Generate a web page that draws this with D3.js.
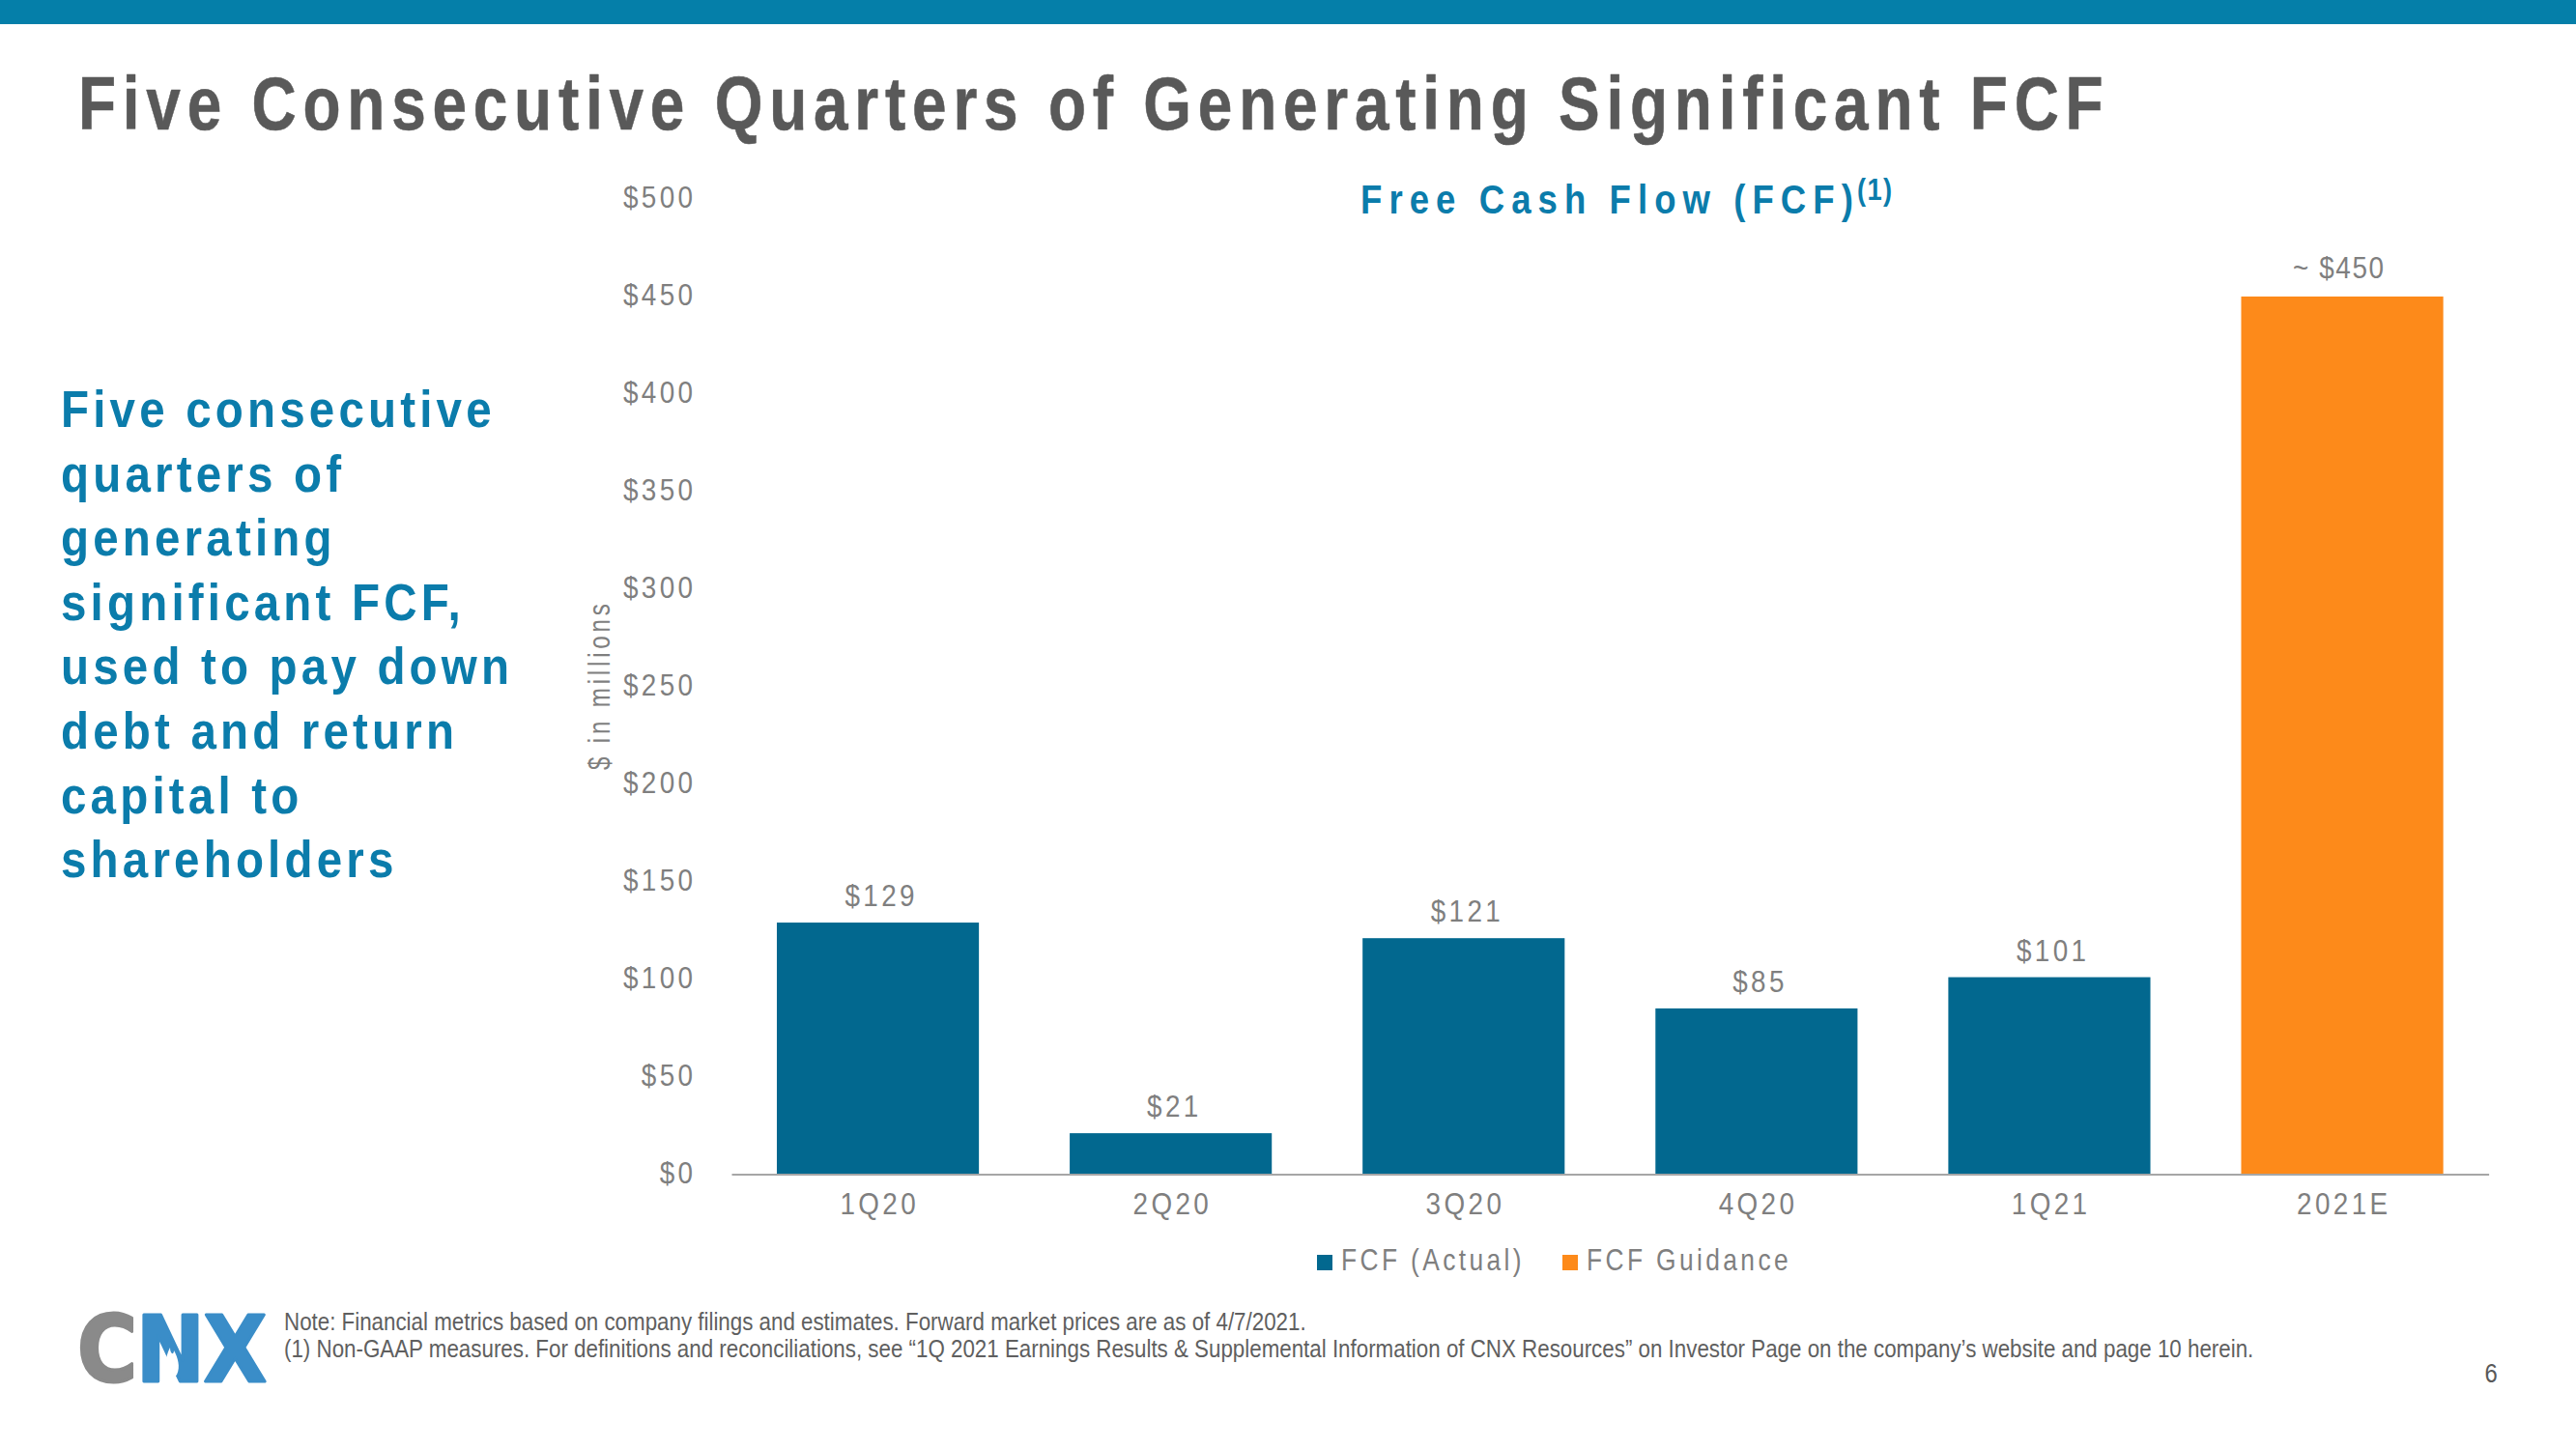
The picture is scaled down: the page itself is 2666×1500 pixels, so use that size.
<!DOCTYPE html>
<html><head><meta charset="utf-8">
<script src="https://cdn.jsdelivr.net/npm/d3@7"></script>
<style>html,body{margin:0;padding:0;background:#fff;} svg{display:block;}</style>
</head><body>
<svg id="chart" width="2666" height="1500"></svg>
<script>
// ---------------- DATA ----------------
const categories = ["1Q20", "2Q20", "3Q20", "4Q20", "1Q21", "2021E"];
const fcfValues = [129, 21, 121, 85, 101, 450];
const seriesKind = ["actual", "actual", "actual", "actual", "actual", "guidance"];
const valueLabels = ["$129", "$21", "$121", "$85", "$101", "~ $450"];
const yTickValues = [0, 50, 100, 150, 200, 250, 300, 350, 400, 450, 500];
const legendLabels = ["FCF (Actual)", "FCF Guidance"];
const sideText = ["Five consecutive", "quarters of", "generating", "significant FCF,", "used to pay down", "debt and return", "capital to", "shareholders"];
const footnotes = [
  "Note: Financial metrics based on company filings and estimates. Forward market prices are as of 4/7/2021.",
  "(1) Non-GAAP measures. For definitions and reconciliations, see \u201C1Q 2021 Earnings Results & Supplemental Information of CNX Resources\u201D on Investor Page on the company\u2019s website and page 10 herein."
];

// ---------------- STYLE ----------------
const FONT = "'Liberation Sans', Arial, Helvetica, sans-serif";
const BLUE_BAR = "#02688f";
const ORANGE = "#fd8a1a";
const BRAND_BLUE = "#0b7cab";
const GREY_TXT = "#7f7f7f";
const colorOf = { actual: BLUE_BAR, guidance: ORANGE };

const svg = d3.select("#chart");

function placeText(parent, str, o) {
  const size = o.size, weight = o.weight || "normal", fill = o.fill;
  let k = o.k || 1, ls = o.ls || 0;
  const anchor = o.anchor || "start";
  const g = parent.append("g");
  const t = g.append("text")
    .attr("font-family", o.family || FONT)
    .attr("font-size", size)
    .attr("font-weight", weight)
    .attr("fill", fill)
    .attr("text-anchor", "start")
    .attr("x", 0).attr("y", 0).attr("dy", 0)
    .style("letter-spacing", "0px")
    .text(str);
  if (o.stroke) t.attr("stroke", fill).attr("stroke-width", o.stroke).attr("stroke-linejoin", "round");
  const w0 = t.node().getComputedTextLength();
  const n = str.length;
  if (o.width != null) {
    if (o.fitK) { k = o.width / w0; ls = 0; }
    else ls = (o.width / k - w0) / Math.max(1, n - 1);
  }
  t.style("letter-spacing", ls + "px");
  const ws = k * (w0 + (n - 1) * ls);
  let x0 = o.x;
  if (anchor === "middle") x0 = o.x - ws / 2;
  else if (anchor === "end") x0 = o.x - ws;
  g.attr("transform", `translate(${x0},${o.y}) scale(${k},1)`);
  return { g, t, k, ls, width: ws, x0 };
}

// ---------------- HEADER ----------------
svg.append("rect").attr("x", 0).attr("y", 0).attr("width", 2666).attr("height", 25).attr("fill", "#057fa9");

placeText(svg, "Five Consecutive Quarters of Generating Significant FCF",
  { x: 81, y: 134, size: 78, weight: "bold", fill: "#595959", k: 0.82, width: 2096, stroke: 0.6 });

// ---------------- SIDE TEXT ----------------
const cal = placeText(svg.append("g").attr("opacity", 0), "used to pay down",
  { x: 0, y: 0, size: 54, weight: "bold", fill: BRAND_BLUE, k: 0.88, width: 464 });
sideText.forEach((line, i) => {
  placeText(svg, line, { x: 63, y: 442 + i * 66.6, size: 54, weight: "bold", fill: BRAND_BLUE, k: 0.88, ls: cal.ls });
});

// ---------------- CHART ----------------
const x = d3.scaleBand().domain(categories).range([757, 2575.6]).paddingInner(0.31).paddingOuter(0.155);
const y = d3.scaleLinear().domain([0, 500]).range([1215.5, 206]);

// chart title
const ct = placeText(svg, "Free Cash Flow (FCF)", { x: 1408, y: 221, size: 43, weight: "bold", fill: BRAND_BLUE, k: 0.85, width: 510 });
placeText(svg, "(1)", { x: ct.x0 + ct.width + 4, y: 207, size: 32, weight: "bold", fill: BRAND_BLUE, k: 0.85, width: 36 });

// y axis (labels only)
const yAxisG = svg.append("g").attr("transform", "translate(717,0)")
  .call(d3.axisLeft(y).tickValues(yTickValues).tickFormat(d => "$" + d).tickSize(0).tickPadding(0));
yAxisG.select(".domain").remove();
yAxisG.selectAll(".tick").each(function () {
  const tg = d3.select(this);
  const txt = tg.select("text").text();
  tg.select("text").remove();
  placeText(tg, txt, { x: 0, y: 8.5, size: 32, fill: GREY_TXT, k: 0.87, ls: 3.9, anchor: "end" });
});

// y axis title
const yTitle = svg.append("g").attr("transform", "translate(631,711) rotate(-90)");
placeText(yTitle, "$ in millions", { x: 0, y: 0, size: 31, fill: GREY_TXT, k: 0.78, width: 172, anchor: "middle" });

// bars
svg.append("g").selectAll("rect").data(categories).join("rect")
  .attr("x", d => x(d))
  .attr("width", x.bandwidth())
  .attr("y", (d, i) => y(fcfValues[i]))
  .attr("height", (d, i) => y(0) - y(fcfValues[i]))
  .attr("fill", (d, i) => colorOf[seriesKind[i]]);

// value labels
const vl = svg.append("g");
categories.forEach((c, i) => {
  const lab = valueLabels[i];
  const opts = { x: x(c) + x.bandwidth() / 2 + 2, y: y(fcfValues[i]) - 17, size: 32, fill: GREY_TXT, k: 0.87, ls: 3.9, anchor: "middle" };
  if (lab.startsWith("~")) { opts.width = 94; opts.x -= 6; opts.y -= 2; }
  placeText(vl, lab, opts);
});

// x axis
const xAxisG = svg.append("g").attr("transform", `translate(0,${y(0)})`)
  .call(d3.axisBottom(x).tickSize(0).tickSizeOuter(0).tickPadding(0));
xAxisG.select(".domain").attr("stroke", "#a6a6a6").attr("stroke-width", 2);
xAxisG.selectAll(".tick").each(function () {
  const tg = d3.select(this);
  const txt = tg.select("text").text();
  tg.select("text").remove();
  placeText(tg, txt, { x: 0, y: 41.5, size: 32, fill: GREY_TXT, k: 0.87, ls: 3.9, anchor: "middle" });
});

// legend
const legendX = [1363, 1617];
const legendColors = [BLUE_BAR, ORANGE];
const lg = svg.append("g");
legendLabels.forEach((lab, i) => {
  lg.append("rect").attr("x", legendX[i]).attr("y", 1299).attr("width", 16).attr("height", 16).attr("fill", legendColors[i]);
  placeText(lg, lab, { x: legendX[i] + 25, y: 1315, size: 31, fill: GREY_TXT, k: 0.85, ls: 4.0 });
});

// ---------------- FOOTER ----------------
const f2 = placeText(svg, footnotes[1], { x: 294, y: 1405, size: 25, fill: "#5f5f5f", width: 2039, fitK: true });
placeText(svg, footnotes[0], { x: 294, y: 1377, size: 25, fill: "#5f5f5f", k: f2.k, width: 1058 });
placeText(svg, "6", { x: 2578, y: 1431, size: 28, fill: "#595959", k: 0.85, anchor: "middle" });

// logo
const logo = svg.append("g");
const lt = placeText(logo, "CNX", { x: 80, y: 1430, size: 94, weight: "bold", fill: "#3a8dc8", family: "'DejaVu Sans', sans-serif", k: 0.9, width: 196, stroke: 3 });
lt.t.text(null);
lt.t.append("tspan").attr("fill", "#8a8a8a").attr("stroke", "#8a8a8a").text("C");
lt.t.append("tspan").attr("fill", "#3a8dc8").attr("stroke", "#3a8dc8").text("NX");
logo.append("path")
  .attr("transform", "translate(178,1405)")
  .attr("d", "M0,22 C-9,16 -8,2 -2,-10 C-2,-3 2,-2 2,-7 C6,0 9,10 5,18 C3,20 2,22 0,22 Z")
  .attr("fill", "#fff");
</script>
</body></html>
